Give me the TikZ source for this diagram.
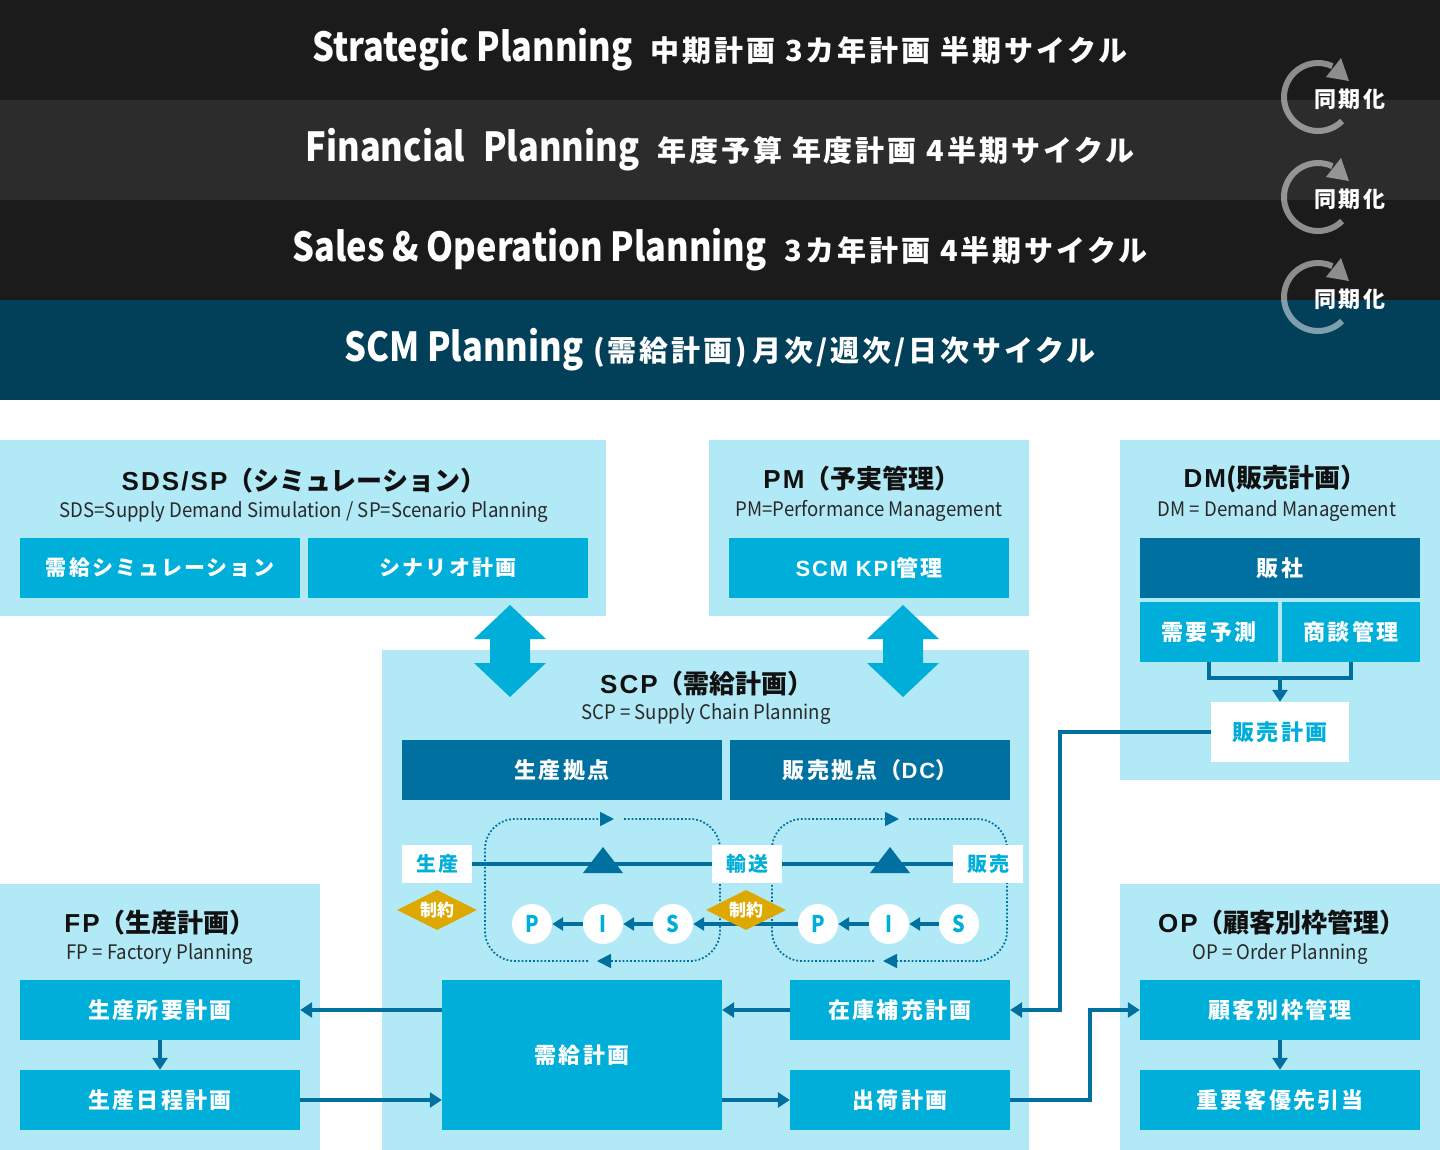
\documentclass[tikz,border=0pt]{standalone}
\usepackage{fontspec}
\usetikzlibrary{arrows.meta,shapes.geometric}
\newfontfamily\jp{Noto Sans CJK JP}
\newfontfamily\jpc{Noto Sans CJK JP}[FakeStretch=0.93]
\newfontfamily\jpbar{Noto Sans CJK JP}[FakeStretch=0.86]
\newfontfamily\jps{Noto Sans CJK JP}[LetterSpace=10]
\newfontfamily\lat{Liberation Sans}[LetterSpace=8]
\definecolor{barA}{HTML}{1B1B1B}
\definecolor{barB}{HTML}{2C2C2C}
\definecolor{barD}{HTML}{023F59}
\definecolor{lightb}{HTML}{B2E9F6}
\definecolor{cyanb}{HTML}{00AEDA}
\definecolor{dblue}{HTML}{0070A0}
\definecolor{gold}{HTML}{DDA800}
\definecolor{ink}{HTML}{111111}
\tikzset{
  bartext/.style={text=white, font=\bfseries, inner sep=0},
  synctext/.style={text=white, font=\jps\bfseries\fontsize{22}{22}\selectfont, inner sep=0},
  title/.style={text=ink, font=\jp\bfseries\fontsize{26}{26}\selectfont, inner sep=0},
  subt/.style={text=ink!90, font=\jpc\fontsize{20}{20}\selectfont, inner sep=0},
  cbox/.style={fill=cyanb, text=white, font=\jps\bfseries\fontsize{22}{22}\selectfont, inner sep=0},
  dbox/.style={fill=dblue, text=white, font=\jps\bfseries\fontsize{22}{22}\selectfont, inner sep=0},
  wbox/.style={fill=white, text=cyanb, font=\jps\bfseries\fontsize{20}{20}\selectfont, inner sep=0},
  circ/.style={circle, fill=white, text=cyanb, font=\jpbar\bfseries\fontsize{23}{23}\selectfont, minimum size=40pt, inner sep=0},
  constr/.style={diamond, aspect=2, fill=gold, text=white, font=\jp\bfseries\fontsize{17}{17}\selectfont, minimum width=80pt, minimum height=40pt, inner sep=0},
  conn/.style={draw=dblue, line width=3.5pt, -{Triangle[length=12pt,width=15pt]}},
  plainconn/.style={draw=dblue, line width=3.5pt},
  pisarrow/.style={draw=dblue, line width=3.5pt, -{Triangle[length=11pt,width=13pt]}},
  loop/.style={draw=dblue, line width=1.8pt, dash pattern=on 1.8pt off 2pt, rounded corners=30pt, -{Triangle[length=14pt,width=14pt]}},
  syncarc/.style={draw=white, line width=6pt}
}
\begin{document}
\begin{tikzpicture}[x=1pt,y=-1pt]
\useasboundingbox (0,0) rectangle (1440,1150);
\fill[white] (0,0) rectangle (1440,1150);
% top bars
\fill[barA] (0,0) rectangle (1440,100);
\fill[barB] (0,100) rectangle (1440,200);
\fill[barA] (0,200) rectangle (1440,300);
\fill[barD] (0,300) rectangle (1440,400);
\node[bartext] (b1) at (720,50) {\jpbar\fontsize{40}{40}\selectfont Strategic Planning\hspace{18pt}\jps\fontsize{29}{29}\selectfont 中期計画\hspace{10pt}3カ年計画\hspace{10pt}半期サイクル};
\node[bartext] (b2) at (720,150) {\jpbar\fontsize{40}{40}\selectfont Financial\hspace{18pt}Planning\hspace{18pt}\jps\fontsize{29}{29}\selectfont 年度予算\hspace{10pt}年度計画\hspace{10pt}4半期サイクル};
\node[bartext] (b3) at (720,250) {\jpbar\fontsize{40}{40}\selectfont Sales \& Operation Planning\hspace{18pt}\jps\fontsize{29}{29}\selectfont 3カ年計画\hspace{10pt}4半期サイクル};
\node[bartext] (b4) at (720,350) {\jpbar\fontsize{40}{40}\selectfont SCM Planning\hspace{10pt}\jps\fontsize{29}{29}\selectfont (需給計画)\hspace{6pt}月次/週次/日次サイクル};
% sync symbols
\foreach \yy/\nm in {97/s1,197/s2,297/s3}{
  \begin{scope}[transparency group, opacity=0.5]
    \draw[syncarc] (1318,\yy) ++(-45:34pt) arc[start angle=-45, end angle=-295, radius=34pt];
    \fill[white] (1341,\yy-39) -- (1349,\yy-16) -- (1326,\yy-20) -- cycle;
  \end{scope}
  \node[synctext] (\nm) at (1350,\yy+2) {同期化};
}
% region backgrounds
\fill[lightb] (0,440) rectangle (606,616);
\fill[lightb] (709,440) rectangle (1029,616);
\fill[lightb] (1120,440) rectangle (1440,780);
\fill[lightb] (382,650) rectangle (1029,1150);
\fill[lightb] (0,884) rectangle (320,1150);
\fill[lightb] (1120,884) rectangle (1440,1150);
% double arrows
\foreach \cx in {510,903}{
  \fill[cyanb] (\cx,605) -- (\cx+36,639) -- (\cx+20,639) -- (\cx+20,663) -- (\cx+36,663) -- (\cx,697) -- (\cx-36,663) -- (\cx-20,663) -- (\cx-20,639) -- (\cx-36,639) -- cycle;
}
% SDS/SP
\node[title] (sdsT) at (304,481) {{\lat SDS/SP}（シミュレーション）};
\node[subt] (sdsS) at (304,512) {SDS=Supply Demand Simulation / SP=Scenario Planning};
\node[cbox, font=\jps\bfseries\fontsize{21}{21}\selectfont, minimum width=280pt, minimum height=60pt] (sim) at (160,568) {需給シミュレーション};
\node[cbox, font=\jps\bfseries\fontsize{21}{21}\selectfont, minimum width=280pt, minimum height=60pt] (scn) at (448,568) {シナリオ計画};
% PM
\node[title] (pmT) at (862,479) {{\lat PM}（予実管理）};
\node[subt] (pmS) at (869,511) {PM=Performance Management};
\node[cbox, minimum width=280pt, minimum height=60pt] (kpi) at (869,568) {{\lat SCM KPI}管理};
% DM
\node[title] (dmT) at (1275,479) {{\lat DM}(販売計画）};
\node[subt] (dmS) at (1277,511) {DM = Demand Management};
\node[dbox, minimum width=280pt, minimum height=60pt] (hansha) at (1280,568) {販社};
\node[cbox, minimum width=138pt, minimum height=60pt] (jyo) at (1209,632) {需要予測};
\node[cbox, minimum width=138pt, minimum height=60pt] (shd) at (1351,632) {商談管理};
\node[wbox, font=\jps\bfseries\fontsize{22}{22}\selectfont, minimum width=138pt, minimum height=60pt] (hk) at (1280,732) {販売計画};
\coordinate (dmj) at (1280,678);
\draw[plainconn] (jyo.south) |- (dmj) -| (shd.south);
\draw[conn] (dmj) -- (hk.north);
% SCP
\node[title] (scpT) at (707,684) {{\lat SCP}（需給計画）};
\node[subt] (scpS) at (706,714) {SCP = Supply Chain Planning};
\node[dbox, minimum width=320pt, minimum height=60pt] (skyo) at (562,770) {生産拠点};
\node[dbox, minimum width=280pt, minimum height=60pt] (hkyo) at (870,770) {販売拠点（{\lat DC}）};
% dotted loops
\draw[loop] (588,961) -- (485,961) -- (485,819) -- (614,819);
\draw[loop] (624,819) -- (720,819) -- (720,961) -- (597,961);
\draw[loop] (874,961) -- (772,961) -- (772,819) -- (899,819);
\draw[loop] (909,819) -- (1007,819) -- (1007,961) -- (883,961);
% flow labels
\node[wbox, minimum width=70pt, minimum height=38pt] (ps) at (437,864) {生産};
\node[wbox, minimum width=70pt, minimum height=38pt] (ys) at (747,864) {輸送};
\node[wbox, minimum width=70pt, minimum height=38pt] (hb) at (988,864) {販売};
\draw[plainconn] (ps.east) -- (ys.west);
\draw[plainconn] (ys.east) -- (hb.west);
\fill[dblue] (583,873) -- (623,873) -- (603,847) -- cycle;
\fill[dblue] (870,873) -- (910,873) -- (890,847) -- cycle;
% PIS
\node[circ] (p1) at (532,924) {P};
\node[circ] (i1) at (603,924) {I};
\node[circ] (s1) at (673,924) {S};
\node[circ] (p2) at (818,924) {P};
\node[circ] (i2) at (889,924) {I};
\node[circ] (s2) at (959,924) {S};
\draw[pisarrow] (s1) -- (i1);
\draw[pisarrow] (i1) -- (p1);
\draw[pisarrow] (p2) -- (s1);
\draw[pisarrow] (s2) -- (i2);
\draw[pisarrow] (i2) -- (p2);
\node[constr] (c1) at (437,910) {制約};
\node[constr] (c2) at (746,910) {制約};
% planning boxes
\node[cbox, minimum width=280pt, minimum height=150pt] (jk) at (582,1055) {需給計画};
\node[cbox, minimum width=220pt, minimum height=60pt] (zk) at (900,1010) {在庫補充計画};
\node[cbox, minimum width=220pt, minimum height=60pt] (sk) at (900,1100) {出荷計画};
% FP
\node[title] (fpT) at (160,923) {{\lat FP}（生産計画）};
\node[subt] (fpS) at (160,954) {FP = Factory Planning};
\node[cbox, minimum width=280pt, minimum height=60pt] (sy) at (160,1010) {生産所要計画};
\node[cbox, minimum width=280pt, minimum height=60pt] (sn) at (160,1100) {生産日程計画};
% OP
\node[title] (opT) at (1282,923) {{\lat OP}（顧客別枠管理）};
\node[subt] (opS) at (1280,954) {OP = Order Planning};
\node[cbox, minimum width=280pt, minimum height=60pt] (km) at (1280,1010) {顧客別枠管理};
\node[cbox, minimum width=280pt, minimum height=60pt] (jy) at (1280,1100) {重要客優先引当};
% connectors
\draw[conn] (jk.west |- sy) -- (sy.east);
\draw[conn] (sn.east) -- (jk.west |- sn);
\draw[conn] (zk.west) -- (jk.east |- zk);
\draw[conn] (jk.east |- sk) -- (sk.west);
\draw[conn] (sy.south) -- (sn.north);
\draw[conn] (km.south) -- (jy.north);
\draw[conn] (hk.west) -- ++(-151,0) |- (zk.east);
\draw[conn] (sk.east) -- ++(80,0) |- (km.west);
\end{tikzpicture}
\end{document}
